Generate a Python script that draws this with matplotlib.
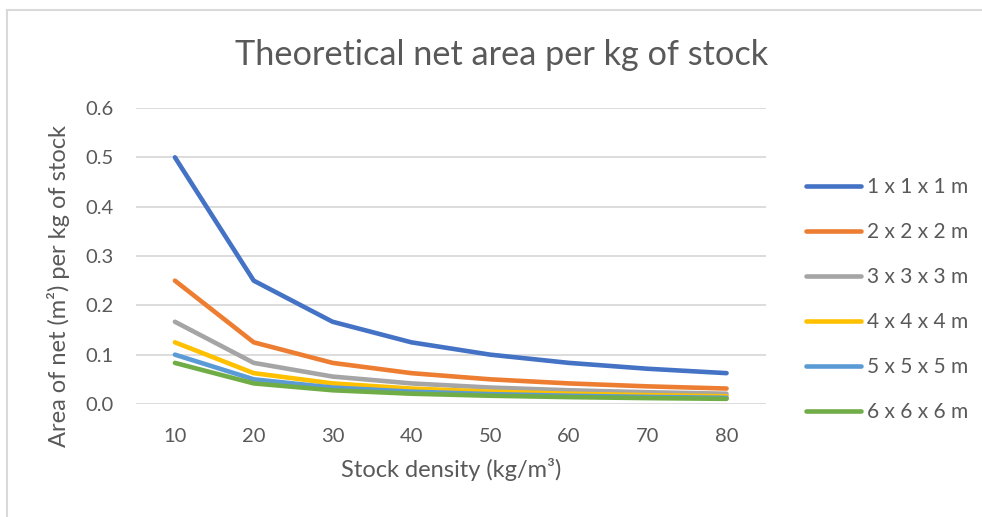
import matplotlib
matplotlib.use("Agg")
import matplotlib.pyplot as plt
from matplotlib.lines import Line2D

plt.rcParams['font.family'] = ['Lato', 'DejaVu Sans']

# stock density (kg/m3) and net area per kg for each cage size
density = [10, 20, 30, 40, 50, 60, 70, 80]
cage_1m = [0.5, 0.25, 0.1667, 0.125, 0.1, 0.0833, 0.0714, 0.0625]
cage_2m = [0.25, 0.125, 0.0833, 0.0625, 0.05, 0.0417, 0.0357, 0.0313]
cage_3m = [0.1667, 0.0833, 0.0556, 0.0417, 0.0333, 0.0278, 0.0238, 0.0208]
cage_4m = [0.125, 0.0625, 0.0417, 0.0313, 0.025, 0.0208, 0.0179, 0.0156]
cage_5m = [0.1, 0.05, 0.0333, 0.025, 0.02, 0.0167, 0.0143, 0.0125]
cage_6m = [0.0833, 0.0417, 0.0278, 0.0208, 0.0167, 0.0139, 0.0119, 0.0104]
labels = ['1 x 1 x 1 m', '2 x 2 x 2 m', '3 x 3 x 3 m',
          '4 x 4 x 4 m', '5 x 5 x 5 m', '6 x 6 x 6 m']
colors = ['#4472C4', '#ED7D31', '#A5A5A5', '#FFC000', '#5B9BD5', '#70AD47']
series = [cage_1m, cage_2m, cage_3m, cage_4m, cage_5m, cage_6m]

text_col = '#595959'

fig = plt.figure(figsize=(9.82, 5.17), dpi=100)
ax = fig.add_axes([0.138, 0.2186, 0.642, 0.5725])

x = list(range(len(density)))
for vals, lab, col in zip(series, labels, colors):
    ax.plot(x, vals, color=col, lw=3.3, label=lab, solid_capstyle='round')

yticks = [0, 0.1, 0.2, 0.3, 0.4, 0.5, 0.6]
ax.set_xlim(-0.5, len(density) - 0.5)
ax.set_ylim(0, 0.6)
ax.set_yticks(yticks)
ax.set_yticklabels([f'{v:.1f}' for v in yticks])
ax.set_xticks(x)
ax.set_xticklabels([str(d) for d in density])
ax.grid(axis='y', color='#D9D9D9', lw=1.3)
ax.set_axisbelow(True)
for s in ['top', 'right', 'left', 'bottom']:
    ax.spines[s].set_visible(False)
ax.tick_params(length=0, labelsize=14.5, colors=text_col)
ax.tick_params(axis='x', pad=17)
ax.tick_params(axis='y', pad=16)

ax.set_xlabel('Stock density (kg/m³)', fontsize=17, color=text_col, labelpad=10)
ax.set_ylabel('Area of net (m²) per kg of stock', fontsize=17, color=text_col)
ax.yaxis.set_label_coords(-0.104, 0.40)
fig.text(0.511, 0.893, 'Theoretical net area per kg of stock', ha='center', va='center',
         fontsize=24.7, color=text_col)

fig.legend(loc='center left', bbox_to_anchor=(0.802, 0.42), frameon=False,
           fontsize=15, labelspacing=1.2, handlelength=2.64, handletextpad=0.25,
           labelcolor=text_col)

# chart frame
fig.add_artist(Line2D([0.0075, 0.0075], [0, 0.981], color='#D9D9D9', lw=1.5, transform=fig.transFigure))
fig.add_artist(Line2D([0.0075, 1], [0.981, 0.981], color='#D9D9D9', lw=1.5, transform=fig.transFigure))

fig.savefig('out.png', dpi=100)
